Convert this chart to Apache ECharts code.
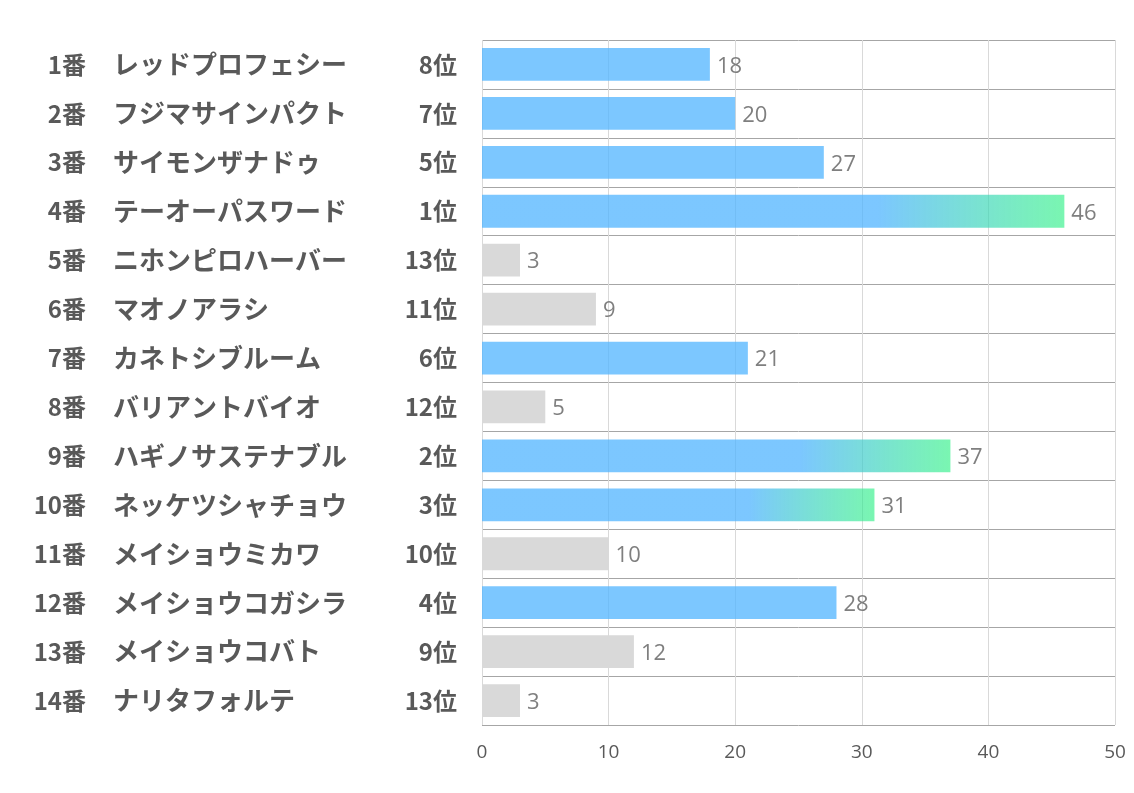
<!DOCTYPE html>
<html><head><meta charset="utf-8">
<script src="https://cdn.jsdelivr.net/npm/echarts@6/dist/echarts.min.js"></script>
<style>html,body{margin:0;padding:0;background:#fff}#c{width:1134px;height:793px}</style>
</head><body><div id="c"></div>
<script>
const numbers = ['1番','2番','3番','4番','5番','6番','7番','8番','9番','10番','11番','12番','13番','14番'];
const names = ['レッドプロフェシー','フジマサインパクト','サイモンザナドゥ','テーオーパスワード','ニホンピロハーバー','マオノアラシ','カネトシブルーム','バリアントバイオ','ハギノサステナブル','ネッケツシャチョウ','メイショウミカワ','メイショウコガシラ','メイショウコバト','ナリタフォルテ'];
const ranks = ['8位','7位','5位','1位','13位','11位','6位','12位','2位','3位','10位','4位','9位','13位'];
const values = [18,20,27,46,3,9,21,5,37,31,10,28,12,3];
const xTicks = [0,10,20,30,40,50];

const BLUE = 'rgba(80,180,255,0.75)';
const GREEN = 'rgba(40,240,130,0.62)';
const GRAY = '#d9d9d9';
function colorFor(rank){
  const r = parseInt(rank,10);
  if (r <= 3) return new echarts.graphic.LinearGradient(0,0,1,0,[
    {offset:0,color:BLUE},{offset:0.68,color:BLUE},{offset:1,color:GREEN}]);
  if (r <= 8) return BLUE;
  return GRAY;
}
const chart = echarts.init(document.getElementById('c'));
const lblFont = {fontFamily:'"Noto Sans CJK JP", sans-serif', fontWeight:'bold', fontSize:24, color:'#595959'};
const baseY = {type:'category', inverse:true, gridIndex:0, position:'left',
  axisLine:{show:false}, axisTick:{show:false}};
chart.setOption({
  animation:false,
  grid:{left:482, top:40, width:633, height:685, containLabel:false},
  xAxis:{type:'value', min:xTicks[0], max:xTicks[xTicks.length-1], interval:10,
    axisLine:{show:false}, axisTick:{show:false},
    splitLine:{show:true, lineStyle:{color:'#d9d9d9', width:1}},
    axisLabel:{margin:18, fontSize:19, color:'#595959', fontFamily:'"Open Sans", sans-serif'}},
  yAxis:[
    Object.assign({}, baseY, {data:numbers,
      splitLine:{show:true, lineStyle:{color:'#a6a6a6', width:1}},
      axisLabel:Object.assign({margin:396, align:'right'}, lblFont)}),
    Object.assign({}, baseY, {data:names, splitLine:{show:false},
      axisLabel:Object.assign({margin:369, align:'left'}, lblFont, {fontSize:26})}),
    Object.assign({}, baseY, {data:ranks, splitLine:{show:false},
      axisLabel:Object.assign({margin:25, align:'right'}, lblFont)})
  ],
  series:[{
    type:'bar', yAxisIndex:0, barWidth:'67%',
    data: values.map((v,i)=>({value:v, itemStyle:{color:colorFor(ranks[i])}})),
    label:{show:true, position:'right', distance:7, fontSize:22, color:'#7f7f7f',
      offset:[0,2], fontFamily:'"Open Sans", sans-serif'}
  }]
});
</script></body></html>
